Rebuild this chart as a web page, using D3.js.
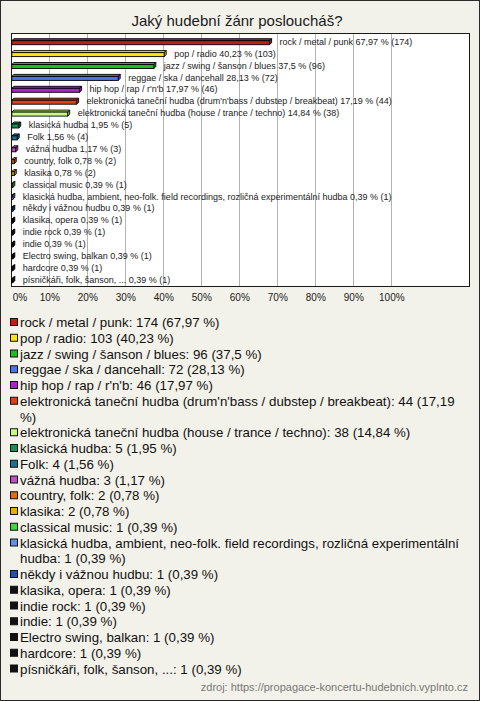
<!DOCTYPE html>
<html>
<head>
<meta charset="utf-8">
<script src="https://cdn.jsdelivr.net/npm/d3@7"></script>
<style>
  html, body { margin: 0; padding: 0; background: #f3f2ea; }
  svg { display: block; font-family: "Liberation Sans", Arial, sans-serif; }
</style>
</head>
<body>
<svg id="chart" width="480" height="701"></svg>
<script>
const title = "Jaký hudební žánr posloucháš?";
const source = "zdroj: https://propagace-koncertu-hudebnich.vyplnto.cz";
const categories = [
  "rock / metal / punk",
  "pop / radio",
  "jazz / swing / šanson / blues",
  "reggae / ska / dancehall",
  "hip hop / rap / r'n'b",
  "elektronická taneční hudba (drum'n'bass / dubstep / breakbeat)",
  "elektronická taneční hudba (house / trance / techno)",
  "klasická hudba",
  "Folk",
  "vážná hudba",
  "country, folk",
  "klasika",
  "classical music",
  "klasická hudba, ambient, neo-folk. field recordings, rozličná experimentální hudba",
  "někdy i vážnou hudbu",
  "klasika, opera",
  "indie rock",
  "indie",
  "Electro swing, balkan",
  "hardcore",
  "písničkáři, folk, šanson, ..."
];
const counts = [174, 103, 96, 72, 46, 44, 38, 5, 4, 3, 2, 2, 1, 1, 1, 1, 1, 1, 1, 1, 1];
const percents = [67.97, 40.23, 37.5, 28.13, 17.97, 17.19, 14.84, 1.95, 1.56, 1.17, 0.78, 0.78, 0.39, 0.39, 0.39, 0.39, 0.39, 0.39, 0.39, 0.39, 0.39];
const colors = ["#c0200f", "#ffe400", "#18c018", "#4a74ee", "#b21ed2", "#e2400e", "#c8fa7c",
  "#129058", "#1c7290", "#c04ec4", "#e06c0c", "#e4b000", "#3cd83c", "#6490e0", "#2450b0",
  "#111111", "#111111", "#111111", "#111111", "#111111", "#111111"];
const tickValues = [0, 10, 20, 30, 40, 50, 60, 70, 80, 90, 100];

const fmt = v => String(v).replace(".", ",");
const svg = d3.select("#chart");

svg.append("rect").attr("x", 0.5).attr("y", 0.5).attr("width", 479).attr("height", 700)
  .attr("fill", "#f3f2ea").attr("stroke", "#2a2a2a");

svg.append("text").attr("x", 237).attr("y", 26).attr("text-anchor", "middle")
  .attr("font-size", 15).attr("fill", "#1a1a1a").text(title);

const plot = { left: 11, top: 33, right: 470, bottom: 287 };
const x = d3.scaleLinear().domain([0, 100]).range([11.3, 391.3]);
const y = d3.scaleBand().domain(categories).range([35.75, 285.65]);

svg.append("rect").attr("x", plot.left + 0.5).attr("y", plot.top + 0.5)
  .attr("width", plot.right - plot.left - 1).attr("height", plot.bottom - plot.top - 1)
  .attr("fill", "#ffffff");

svg.append("g").selectAll("line").data(tickValues.filter(t => t > 0)).join("line")
  .attr("x1", d => Math.round(x(d)) + 0.5).attr("x2", d => Math.round(x(d)) + 0.5)
  .attr("y1", plot.top).attr("y2", plot.bottom)
  .attr("stroke", "#b4b4b4").attr("stroke-width", 1);

svg.append("rect").attr("x", plot.left + 0.5).attr("y", plot.top + 0.5)
  .attr("width", plot.right - plot.left - 1).attr("height", plot.bottom - plot.top - 1)
  .attr("fill", "none").attr("stroke", "#1a1a1a");

const axis = d3.axisBottom(x).tickValues(tickValues).tickSize(0).tickFormat(d => d + "%");
const ax = svg.append("g").attr("transform", "translate(0,294)").call(axis);
ax.select(".domain").remove();
ax.selectAll("text").attr("font-size", 10).attr("fill", "#1a1a1a")
  .attr("font-family", "Liberation Sans, Arial, sans-serif").attr("dy", "0.71em")
  .attr("y", 0)
  .attr("text-anchor", d => d === 0 ? "start" : "middle")
  .attr("dx", d => d === 0 ? 1 : 0);

const depth = 2, h = 4;
const rows = categories.map((c, i) => ({ c, i, v: percents[i], n: counts[i], color: colors[i] }));
const bars = svg.append("g").selectAll("g").data(rows).join("g");
bars.each(function (d) {
  const g = d3.select(this);
  const cy = y(d.c) + y.bandwidth() / 2;
  const x0 = x(0) + 0.5, x1 = Math.max(x(d.v), x0 + 1);
  const yt = cy - 1;
  const darker = d3.color(d.color).darker(0.6);
  g.append("path")
    .attr("d", `M${x0},${yt} L${x0 + depth},${yt - depth} L${x1 + depth},${yt - depth} L${x1},${yt} Z`)
    .attr("fill", d.color).attr("stroke", "#000").attr("stroke-width", 0.9);
  g.append("path")
    .attr("d", `M${x1},${yt} L${x1 + depth},${yt - depth} L${x1 + depth},${yt - depth + h} L${x1},${yt + h} Z`)
    .attr("fill", darker).attr("stroke", "#000").attr("stroke-width", 0.9);
  g.append("rect").attr("x", x0).attr("y", yt).attr("width", x1 - x0).attr("height", h)
    .attr("fill", d.color).attr("stroke", "#000").attr("stroke-width", 0.9);
  g.append("text").attr("x", x1 + depth + 8).attr("y", cy).attr("dy", "0.35em")
    .attr("font-size", 9).attr("fill", "#222")
    .text(`${d.c} ${fmt(d.v)} % (${d.n})`);
});

const lg = svg.append("g");
const lineH = 15.75, maxW = 445, textX = 20;
let line = 0;
rows.forEach(d => {
  const base = 327 + line * lineH;
  lg.append("rect").attr("x", 10.5).attr("y", base - 8.5).attr("width", 7).attr("height", 7)
    .attr("fill", d.color).attr("stroke", "#111");
  const full = `${d.c}: ${d.n} (${fmt(d.v)} %)`;
  const words = full.split(" ");
  const t = lg.append("text").attr("x", textX).attr("y", base).attr("font-size", 13.3).attr("fill", "#111");
  let cur = [];
  let ts = t.append("tspan").attr("x", textX).attr("y", base);
  words.forEach(w => {
    cur.push(w);
    ts.text(cur.join(" "));
    if (ts.node().getComputedTextLength() > maxW && cur.length > 1) {
      cur.pop();
      ts.text(cur.join(" "));
      cur = [w];
      line += 1;
      ts = t.append("tspan").attr("x", textX).attr("y", 327 + line * lineH).text(w);
    }
  });
  line += 1;
});

svg.append("text").attr("x", 468).attr("y", 691).attr("text-anchor", "end")
  .attr("font-size", 11).attr("fill", "#777").text(source);
</script>
</body>
</html>
